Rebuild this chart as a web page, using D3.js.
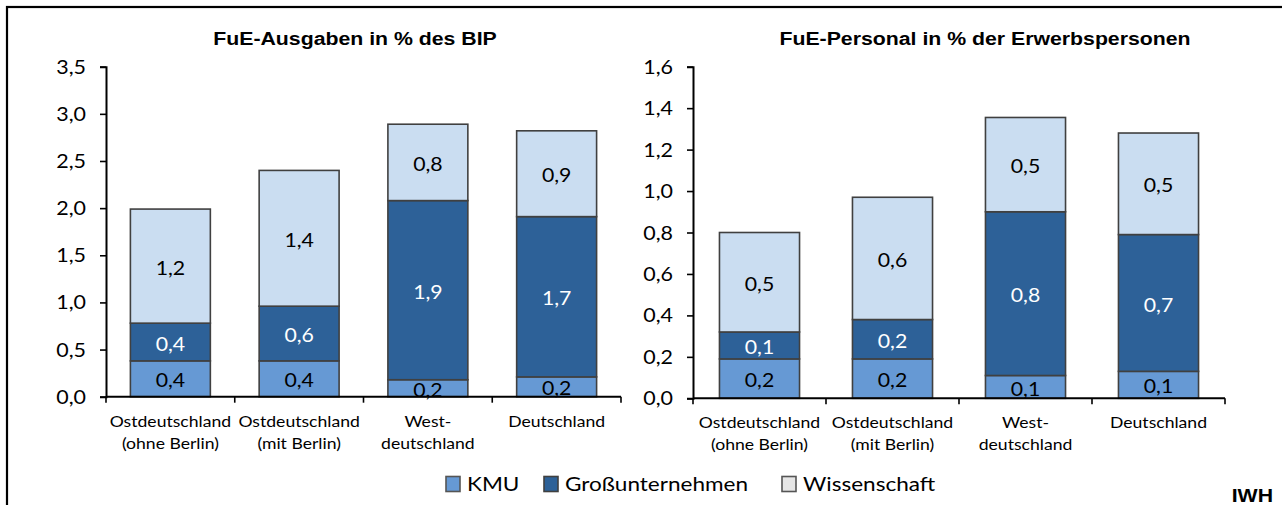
<!DOCTYPE html>
<html><head><meta charset="utf-8">
<script src="https://cdn.jsdelivr.net/npm/d3@7"></script>
<style>
html,body{margin:0;padding:0;background:#fff;overflow:hidden}
svg{display:block}
</style></head>
<body>
<svg id="c" width="1282" height="505"></svg>
<script>
// ---------- data ----------
const categories = [["Ostdeutschland","(ohne Berlin)"],["Ostdeutschland","(mit Berlin)"],["West-","deutschland"],["Deutschland"]];
const seriesNames = ["KMU","Großunternehmen","Wissenschaft"];
// FuE-Ausgaben in % des BIP
const ausgabenKMU   = [0.38, 0.38, 0.18, 0.21];
const ausgabenGross = [0.40, 0.58, 1.90, 1.70];
const ausgabenWiss  = [1.21, 1.44, 0.81, 0.91];
// FuE-Personal in % der Erwerbspersonen
const personalKMU   = [0.19, 0.19, 0.11, 0.13];
const personalGross = [0.13, 0.19, 0.79, 0.66];
const personalWiss  = [0.48, 0.59, 0.455, 0.49];
const ticksAusgaben = [0,0.5,1,1.5,2,2.5,3,3.5];
const ticksPersonal = [0,0.2,0.4,0.6,0.8,1.0,1.2,1.4,1.6];
const titles = ["FuE-Ausgaben in % des BIP","FuE-Personal in % der Erwerbspersonen"];
const sourceLabel = "IWH";

// ---------- style ----------
const colors = ["#6699D4","#2D6198","#CADDF1"];
const labelColors = ["#000","#fff","#000"];
const SX = 1.15; // horizontal text stretch
const calibri = "Lato, 'Open Sans', sans-serif";
const arial = "'Liberation Sans', Arial, sans-serif";
const loc = d3.formatLocale({decimal:",",thousands:".",grouping:[3],currency:["","€"]});
const f1 = loc.format(".1f");

const svg = d3.select("#c");
svg.append("rect").attr("x",7).attr("y",7).attr("width",1400).attr("height",600)
  .attr("fill","#fff").attr("stroke","#000").attr("stroke-width",2.2);

function stext(g, x, y, txt, opt){
  const t = g.append("text")
    .attr("transform",`translate(${x},${y}) scale(${opt.sx||SX},1)`)
    .attr("text-anchor",opt.anchor||"middle")
    .attr("font-family",opt.family||calibri)
    .attr("font-size",opt.size)
    .attr("font-weight",opt.weight||"normal")
    .attr("fill",opt.fill||"#000")
    .text(txt);
  if(opt.dy) t.attr("dy",opt.dy);
  return t;
}

function chart(cfg){
  const g = svg.append("g");
  const x = d3.scaleBand().domain(d3.range(categories.length))
    .range([cfg.x0,cfg.x1]).paddingInner(cfg.pad).paddingOuter(cfg.pad/2);
  const y = d3.scaleLinear().domain([0,cfg.max]).range([cfg.yBot,cfg.yTop]);
  const series = [cfg.kmu,cfg.gross,cfg.wiss];
  const rows = categories.map((c,i)=>({i, KMU:series[0][i], Großunternehmen:series[1][i], Wissenschaft:series[2][i]}));
  const stack = d3.stack().keys(seriesNames)(rows);

  // title
  stext(g, cfg.titleX, 45, cfg.title, {size:18.5, family:arial, weight:"bold"});

  // bars
  stack.forEach((layer,si)=>{
    g.append("g").selectAll("rect").data(layer).join("rect")
      .attr("x",d=>x(d.data.i)).attr("width",x.bandwidth())
      .attr("y",d=>y(d[1])).attr("height",d=>y(d[0])-y(d[1]))
      .attr("fill",colors[si]).attr("stroke","#404040").attr("stroke-width",1.6);
  });
  // labels
  stack.forEach((layer,si)=>{
    layer.forEach(d=>{
      stext(g, x(d.data.i)+x.bandwidth()/2, (y(d[0])+y(d[1]))/2+2, f1(d[1]-d[0]),
        {size:18.5, fill:labelColors[si], dy:"0.36em"});
    });
  });

  // y axis
  const ya = g.append("g").attr("transform",`translate(${cfg.x0},0)`)
    .call(d3.axisLeft(y).tickValues(cfg.ticks).tickSize(6).tickFormat(f1).tickPadding(14));
  ya.select(".domain").attr("stroke","#000").attr("stroke-width",2);
  ya.selectAll(".tick line").attr("stroke","#000").attr("stroke-width",1.6);
  ya.selectAll(".tick text").remove();
  cfg.ticks.forEach(v=>{
    stext(g, cfg.x0-20, y(v), f1(v), {size:19.5, anchor:"end", dy:"0.36em", sx:1.1});
  });

  // x axis
  const step = x.step();
  g.append("line").attr("x1",cfg.x0).attr("x2",cfg.x1).attr("y1",cfg.yBot).attr("y2",cfg.yBot)
    .attr("stroke","#000").attr("stroke-width",2);
  d3.range(categories.length+1).forEach(k=>{
    const xx = k<categories.length ? x(k)-step*cfg.pad/2 : cfg.x1;
    g.append("line").attr("x1",xx).attr("x2",xx).attr("y1",cfg.yBot).attr("y2",cfg.yBot+6)
      .attr("stroke","#000").attr("stroke-width",1.6);
  });
  categories.forEach((lines,i)=>{
    lines.forEach((ln,j)=>{
      stext(g, x(i)+x.bandwidth()/2, cfg.yBot+30+j*22, ln, {size:15.3});
    });
  });
}

chart({x0:106,x1:621,yTop:66.7,yBot:396.7,max:3.5,pad:0.379,ticks:ticksAusgaben,
  kmu:ausgabenKMU,gross:ausgabenGross,wiss:ausgabenWiss,title:titles[0],titleX:355});
chart({x0:693,x1:1225,yTop:66.7,yBot:398.3,max:1.6,pad:0.398,ticks:ticksPersonal,
  kmu:personalKMU,gross:personalGross,wiss:personalWiss,title:titles[1],titleX:985});

// legend
const leg = svg.append("g");
const legX = [446, 544, 782];
const legFill = ["#6699D4","#2D6198","#E6E6E6"];
const legStroke = ["#555","#404040","#555"];
seriesNames.forEach((n,i)=>{
  leg.append("rect").attr("x",legX[i]).attr("y",476.5).attr("width",14).attr("height",15)
    .attr("fill",legFill[i]).attr("stroke",legStroke[i]).attr("stroke-width",1.6);
  stext(leg, legX[i]+21, 491, n, {size:19.6, anchor:"start"});
});
stext(svg, 1273, 502, sourceLabel, {size:18.5, family:arial, weight:"bold", anchor:"end"});
</script>
</body></html>
